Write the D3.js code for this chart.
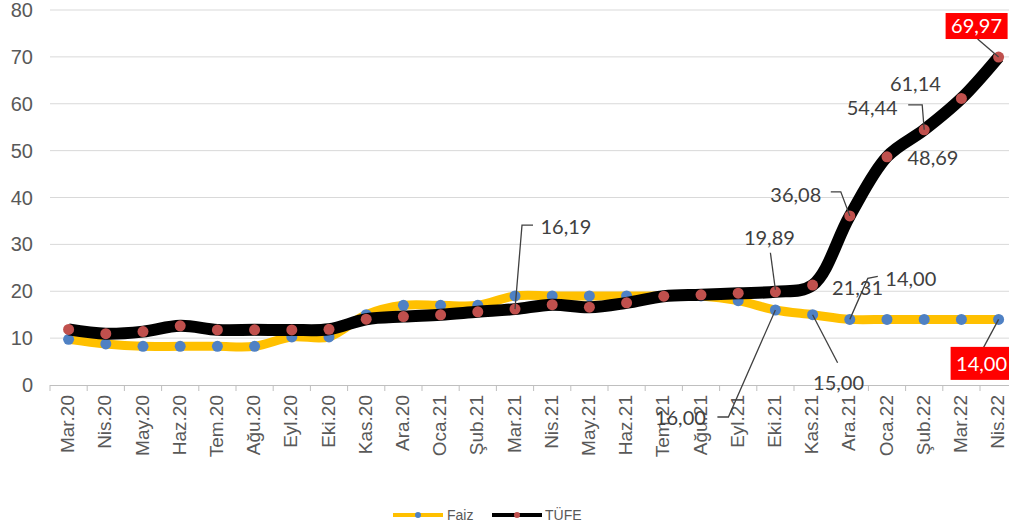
<!DOCTYPE html>
<html><head><meta charset="utf-8">
<script src="https://cdn.jsdelivr.net/npm/d3@7"></script>
<style>
html,body{margin:0;padding:0;background:#fff;overflow:hidden}
svg{display:block}
</style></head>
<body>
<svg id="chart" width="1009" height="523"></svg>
<script>
const categories = ["Mar.20","Nis.20","May.20","Haz.20","Tem.20","Ağu.20","Eyl.20","Eki.20","Kas.20","Ara.20",
  "Oca.21","Şub.21","Mar.21","Nis.21","May.21","Haz.21","Tem.21","Ağu.21","Eyl.21","Eki.21","Kas.21","Ara.21",
  "Oca.22","Şub.22","Mar.22","Nis.22"];
const faiz = [9.75,8.75,8.25,8.25,8.25,8.25,10.25,10.25,15.00,17.00,17.00,17.00,19.00,19.00,19.00,19.00,19.00,19.00,18.00,16.00,15.00,14.00,14.00,14.00,14.00,14.00];
const tufe = [11.86,10.94,11.39,12.62,11.76,11.77,11.75,11.89,14.03,14.60,14.97,15.61,16.19,17.14,16.59,17.53,18.95,19.25,19.58,19.89,21.31,36.08,48.69,54.44,61.14,69.97];
const yTicks = [0,10,20,30,40,50,60,70,80];
const seriesNames = ["Faiz","TÜFE"];

// annotation layout (offsets from the data point)
const annotations = [
  {s:1,i:12,text:"16,19",dx:51,dy:-82,leader:[[0,0],[7,-84],[18,-84]]},
  {s:1,i:19,text:"19,89",dx:-6,dy:-54,leader:[[0,-2],[-5,-39]]},
  {s:1,i:20,text:"21,31",dx:45,dy:3},
  {s:1,i:21,text:"36,08",dx:-54,dy:-21,leader:[[0,0],[-9,-24],[-19,-24]]},
  {s:1,i:22,text:"48,69",dx:46,dy:1},
  {s:1,i:23,text:"54,44",dx:-52,dy:-22,leader:[[0,0],[-2,-25],[-16,-25]]},
  {s:1,i:24,text:"61,14",dx:-46,dy:-15},
  {s:1,i:25,text:"69,97",dx:-22,dy:-31,box:[62,26],leader:[[0,0],[-21,-18]]},
  {s:0,i:19,text:"16,00",dx:-95,dy:108,leader:[[0,0],[-47,107],[-58,107]]},
  {s:0,i:20,text:"15,00",dx:26,dy:68,leader:[[0,0],[25,48]]},
  {s:0,i:21,text:"14,00",dx:61,dy:-41,leader:[[0,0],[18,-41],[28,-43]]},
  {s:0,i:25,text:"14,00",dx:-17,dy:44,box:[62,33],leader:[[0,0],[-15,28]]}
];

const svg = d3.select("#chart");
const left = 50, step = 37.2;
const x = d3.scaleBand().domain(categories).range([left, left + step*categories.length]).padding(0);
const y = d3.scaleLinear().domain([0,80]).range([385,10]);
const cx = c => x(c) + x.bandwidth()/2;

// gridlines
svg.append("g").selectAll("line").data(yTicks.filter(d=>d>0)).join("line")
  .attr("x1", left).attr("x2", 1009).attr("y1", d=>y(d)).attr("y2", d=>y(d))
  .attr("stroke","#d9d9d9").attr("stroke-width",1);

// y labels
svg.append("g").selectAll("text").data(yTicks).join("text")
  .attr("x", 33).attr("y", d=>y(d)).attr("dy","0.35em").attr("text-anchor","end")
  .attr("font-family","Liberation Sans, Arial, sans-serif").attr("font-size",20).attr("fill","#595959")
  .text(d=>d);

// x axis
const xAxis = d3.axisBottom(x).tickSize(0).tickFormat("");
const gx = svg.append("g").attr("transform","translate(0,385)").call(xAxis);
gx.select(".domain").attr("stroke","#bfbfbf").attr("d", `M${left},0.5H1009`);
svg.append("g").selectAll("line").data(d3.range(categories.length+1)).join("line")
  .attr("x1", i=>left + i*step).attr("x2", i=>left + i*step).attr("y1",385).attr("y2",391)
  .attr("stroke","#bfbfbf");
svg.append("g").selectAll("text").data(categories).join("text")
  .attr("transform", d=>`translate(${cx(d)-1},395) rotate(-90)`)
  .attr("dy","0.35em").attr("text-anchor","end")
  .attr("font-family","Liberation Sans, Arial, sans-serif").attr("font-size",19).attr("fill","#595959")
  .text(d=>d);

// lines
const line = d3.line().x((d,i)=>cx(categories[i])).y(d=>y(d)).curve(d3.curveCatmullRom);
const series = [
  {name:"Faiz", values:faiz, color:"#FFC000", width:9, marker:"#4F81C4"},
  {name:"TÜFE", values:tufe, color:"#000000", width:12, marker:"#C0504D"}
];
series.forEach(s=>{
  const g = svg.append("g");
  g.append("path").attr("d", line(s.values)).attr("fill","none").attr("stroke",s.color)
    .attr("stroke-width",s.width).attr("stroke-linejoin","round");
  g.selectAll("circle").data(s.values).join("circle")
    .attr("cx",(d,i)=>cx(categories[i])).attr("cy",d=>y(d)).attr("r",5.5).attr("fill",s.marker);
});

// annotations
const ag = svg.append("g");
annotations.forEach(a=>{
  const vals = a.s===0 ? faiz : tufe;
  const px = cx(categories[a.i]), py = y(vals[a.i]);
  if (a.leader) {
    ag.append("path").attr("d", "M" + a.leader.map(p=>[px+p[0],py+p[1]].join(",")).join("L"))
      .attr("fill","none").attr("stroke","#404040").attr("stroke-width",1.3);
  }
  const tx = px + a.dx, ty = py + a.dy;
  if (a.box) {
    ag.append("rect").attr("x", tx - a.box[0]/2).attr("y", ty - a.box[1]/2)
      .attr("width", a.box[0]).attr("height", a.box[1]).attr("fill","#FF0000");
  }
  ag.append("text").attr("x",tx).attr("y",ty).attr("dy","0.36em").attr("text-anchor","middle")
    .attr("font-family","Lato, sans-serif").attr("font-size",20)
    .attr("fill", a.box ? "#ffffff" : "#404040").text(a.text);
});

// legend
const lg = svg.append("g");
const legendItems = [
  {name:seriesNames[0], x1:393, x2:443, color:"#FFC000", marker:"#4F81C4", tx:447},
  {name:seriesNames[1], x1:492, x2:542, color:"#000000", marker:"#C0504D", tx:545}
];
legendItems.forEach(l=>{
  lg.append("line").attr("x1",l.x1).attr("x2",l.x2).attr("y1",515).attr("y2",515)
    .attr("stroke",l.color).attr("stroke-width",4);
  lg.append("circle").attr("cx",(l.x1+l.x2)/2).attr("cy",515).attr("r",3).attr("fill",l.marker);
  lg.append("text").attr("x",l.tx).attr("y",515).attr("dy","0.35em").attr("font-family","Liberation Sans, Arial, sans-serif")
    .attr("font-size",14).attr("fill","#595959").text(l.name);
});
</script>
</body></html>
